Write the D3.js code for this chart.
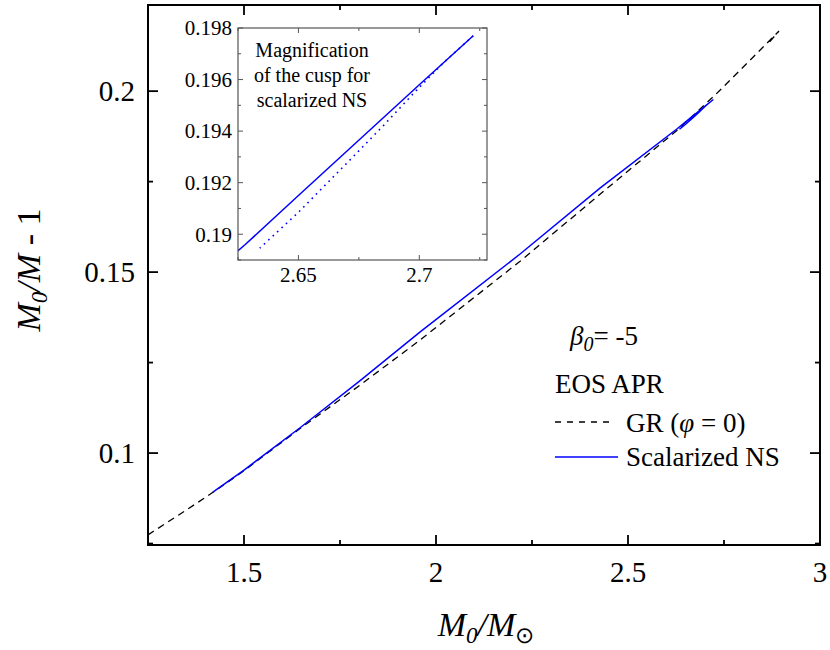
<!DOCTYPE html>
<html>
<head>
<meta charset="utf-8">
<script src="https://cdn.jsdelivr.net/npm/d3@7"></script>
<style>
  body { margin: 0; background: #fff; }
</style>
</head>
<body>
<div id="chart"></div>
<script>
// GR (phi = 0) sequence: rest mass M0/Msun and binding M0/M - 1
var grM0   = [1.25, 1.33, 1.4115, 1.5, 1.646, 1.8, 1.958, 2.219, 2.427, 2.628, 2.7266, 2.81, 2.8932, 2.862];
var grBind = [0.0774, 0.0829, 0.0886, 0.0951, 0.1068, 0.1186, 0.1312, 0.1530, 0.1715, 0.1892, 0.1989, 0.2077, 0.2166, 0.2128];

// scalarized NS, stable branch up to the cusp
var scM0   = [1.419, 1.5, 1.646, 1.8, 1.958, 2.219, 2.427, 2.628, 2.65, 2.7, 2.7223];
var scBind = [0.0892, 0.0953, 0.1070, 0.1198, 0.1334, 0.1550, 0.1732, 0.1896, 0.1915, 0.1958, 0.1977];

// scalarized NS, branch coming back from the cusp
var upM0   = [2.7223, 2.710, 2.699, 2.685, 2.6715, 2.65, 2.634];
var upBind = [0.1977, 0.19665, 0.1956, 0.1942, 0.1929, 0.19085, 0.18946];

var xTicks = [1.5, 2, 2.5, 3], xMinor = [1.25, 1.75, 2.25, 2.75];
var yTicks = [0.1, 0.15, 0.2], yMinor = [0.075, 0.125, 0.175];
var inXTicks = [2.65, 2.7], inXMinor = [2.625, 2.675, 2.725];
var inYTicks = [0.19, 0.192, 0.194, 0.196, 0.198], inYMinor = [0.189, 0.191, 0.193, 0.195, 0.197];

var FONT = "'Liberation Serif'";
var W = 830, H = 650;
var svg = d3.select("#chart").append("svg").attr("width", W).attr("height", H);

var x = d3.scaleLinear().domain([1.25, 3]).range([148, 820]);
var y = d3.scaleLinear().domain([0.0746, 0.2238]).range([545, 5]);

var pts = function(xs, ys) { return xs.map(function(v, i) { return [v, ys[i]]; }); };

// inward ticks on one side of a frame
function ticks(g, sx, sy, major, minor, side, len, minLen) {
  var all = major.map(function(v) { return [v, len]; }).concat(minor.map(function(v) { return [v, minLen]; }));
  all.forEach(function(t) {
    if (side == "bottom" || side == "top") {
      var px = sx(t[0]), y0 = side == "bottom" ? sy.range()[0] : sy.range()[1];
      var dir = side == "bottom" ? -1 : 1;
      g.append("line").attr("x1", px).attr("x2", px).attr("y1", y0).attr("y2", y0 + dir * t[1]);
    } else {
      var py = sy(t[0]), x0 = side == "left" ? sx.range()[0] : sx.range()[1];
      var d = side == "left" ? 1 : -1;
      g.append("line").attr("y1", py).attr("y2", py).attr("x1", x0).attr("x2", x0 + d * t[1]);
    }
  });
}

var tg = svg.append("g").attr("stroke", "#000").attr("stroke-width", 1.8);
["bottom", "top"].forEach(function(s) { ticks(tg, x, y, xTicks, xMinor, s, 10, 5); });
["left", "right"].forEach(function(s) { ticks(tg, x, y, yTicks, yMinor, s, 10, 5); });

svg.append("rect")
  .attr("x", 148).attr("y", 5).attr("width", 820 - 148).attr("height", 545 - 5)
  .attr("fill", "none").attr("stroke", "#000").attr("stroke-width", 2);

svg.append("g").selectAll("text").data(xTicks).enter().append("text")
  .attr("x", function(d) { return x(d); }).attr("y", 582)
  .attr("text-anchor", "middle").attr("font-size", 29)
  .text(function(d) { return d; });

svg.append("g").selectAll("text").data(yTicks).enter().append("text")
  .attr("x", 135).attr("y", function(d) { return y(d); }).attr("dy", "0.35em")
  .attr("text-anchor", "end").attr("font-size", 29)
  .text(function(d) { return d; });

// ---- curves
var line = d3.line().x(function(d) { return x(d[0]); }).y(function(d) { return y(d[1]); });

svg.append("path").datum(pts(grM0, grBind)).attr("d", line)
  .attr("fill", "none").attr("stroke", "#000").attr("stroke-width", 1.3).attr("stroke-dasharray", "7,5");
svg.append("path").datum(pts(scM0, scBind).concat(pts(upM0, upBind).slice(1))).attr("d", line)
  .attr("fill", "none").attr("stroke", "#0000ff").attr("stroke-width", 1.5);

// ---- axis titles
var xt = svg.append("text").attr("x", 486).attr("y", 636).attr("text-anchor", "middle").attr("font-size", 34);
xt.append("tspan").attr("font-style", "italic").text("M");
xt.append("tspan").attr("font-style", "italic").attr("font-size", 23).attr("dy", 7).text("0");
xt.append("tspan").attr("font-style", "italic").attr("dy", -7).text("/M");
xt.append("tspan").attr("font-size", 23).attr("dy", 7).text("\u2299");

var yt = svg.append("text").attr("transform", "translate(40,270) rotate(-90)")
  .attr("text-anchor", "middle").attr("font-size", 34);
yt.append("tspan").attr("font-style", "italic").text("M");
yt.append("tspan").attr("font-style", "italic").attr("font-size", 23).attr("dy", 7).text("0");
yt.append("tspan").attr("font-style", "italic").attr("dy", -7).text("/M");
yt.append("tspan").text(" - 1");

// ---- legend
var b = svg.append("text").attr("x", 570).attr("y", 345).attr("font-size", 27);
b.append("tspan").attr("font-style", "italic").text("\u03b2");
b.append("tspan").attr("font-style", "italic").attr("font-size", 20).attr("dy", 6).text("0");
b.append("tspan").attr("dy", -6).text("= -5");

svg.append("text").attr("x", 555).attr("y", 393).attr("font-size", 27).text("EOS APR");

svg.append("line").attr("x1", 555).attr("x2", 612).attr("y1", 422).attr("y2", 422)
  .attr("stroke", "#000").attr("stroke-width", 1.3).attr("stroke-dasharray", "6,6");
var gr = svg.append("text").attr("x", 626).attr("y", 432).attr("font-size", 27);
gr.append("tspan").text("GR (");
gr.append("tspan").attr("font-style", "italic").text("\u03c6");
gr.append("tspan").text(" = 0)");

svg.append("line").attr("x1", 555).attr("x2", 618).attr("y1", 457).attr("y2", 457)
  .attr("stroke", "#0000ff").attr("stroke-width", 1.6);
svg.append("text").attr("x", 626).attr("y", 466).attr("font-size", 27).text("Scalarized NS");

// ---- inset
var ix = d3.scaleLinear().domain([2.625, 2.728]).range([238, 487]);
var iy = d3.scaleLinear().domain([0.189, 0.198]).range([260, 28]);

var inset = svg.append("g");
inset.append("rect").attr("x", 238).attr("y", 28).attr("width", 487 - 238).attr("height", 260 - 28)
  .attr("fill", "#fff");

svg.append("clipPath").attr("id", "inclip").append("rect")
  .attr("x", 238).attr("y", 28).attr("width", 487 - 238).attr("height", 260 - 28);

var iline = d3.line().x(function(d) { return ix(d[0]); }).y(function(d) { return iy(d[1]); });
var ic = inset.append("g").attr("clip-path", "url(#inclip)");
ic.append("path").datum(pts(scM0, scBind)).attr("d", iline)
  .attr("fill", "none").attr("stroke", "#0000ff").attr("stroke-width", 1.5);
ic.append("path").datum(pts(upM0, upBind)).attr("d", iline)
  .attr("fill", "none").attr("stroke", "#0000ff").attr("stroke-width", 1.6)
  .attr("stroke-dasharray", "1.6,4.4");

var itg = inset.append("g").attr("stroke", "#555").attr("stroke-width", 1);
["bottom", "top"].forEach(function(s) { ticks(itg, ix, iy, inXTicks, inXMinor, s, 5, 3); });
["left", "right"].forEach(function(s) { ticks(itg, ix, iy, inYTicks, inYMinor, s, 5, 3); });

inset.append("rect").attr("x", 238).attr("y", 28).attr("width", 487 - 238).attr("height", 260 - 28)
  .attr("fill", "none").attr("stroke", "#555").attr("stroke-width", 1.2);

inset.selectAll(".ixl").data(inXTicks).enter().append("text")
  .attr("x", function(d) { return ix(d); }).attr("y", 282)
  .attr("text-anchor", "middle").attr("font-size", 21)
  .text(function(d) { return d; });

inset.selectAll(".iyl").data(inYTicks).enter().append("text")
  .attr("x", 232).attr("y", function(d) { return iy(d); }).attr("dy", "0.35em")
  .attr("text-anchor", "end").attr("font-size", 21)
  .text(function(d) { return d; });

var note = inset.append("text").attr("text-anchor", "middle").attr("font-size", 20);
["Magnification", "of the cusp for", "scalarized NS"].forEach(function(s, i) {
  note.append("tspan").attr("x", 312).attr("y", 57 + i * 25).text(s);
});

svg.selectAll("text").style("font-family", FONT);
</script>
</body>
</html>
